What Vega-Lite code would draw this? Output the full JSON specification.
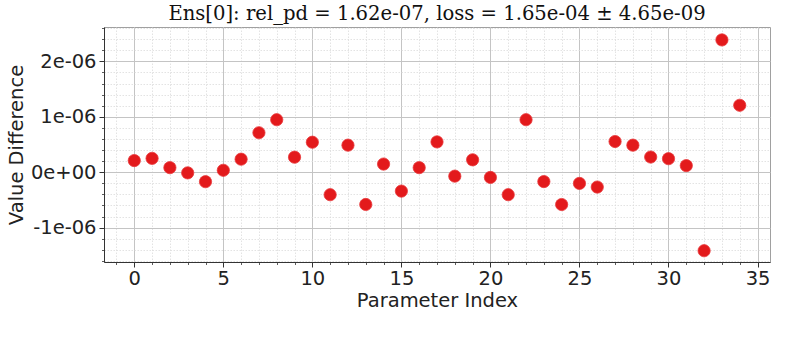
{
  "$schema": "https://vega.github.io/schema/vega-lite/v6.json",
  "width": 666,
  "height": 235,
  "autosize": {"type": "none"},
  "padding": {"left": 104, "top": 27, "right": 20, "bottom": 76},
  "background": "white",
  "title": {
    "text": "Ens[0]: rel_pd = 1.62e-07, loss = 1.65e-04 ± 4.65e-09",
    "font": "DejaVu Serif",
    "fontSize": 19.6,
    "fontWeight": "normal",
    "color": "#111",
    "anchor": "middle",
    "offset": 2
  },
  "config": {
    "view": {"stroke": "#a0a0a0", "strokeWidth": 1},
    "axis": {
      "labelFont": "DejaVu Sans",
      "titleFont": "DejaVu Sans",
      "labelFontSize": 19.5,
      "titleFontSize": 19.5,
      "titleFontWeight": "normal",
      "labelColor": "#222",
      "titleColor": "#222"
    }
  },
  "data": {
    "values": [
      {"i": 0, "v": 2.1e-7}, {"i": 1, "v": 2.5e-7}, {"i": 2, "v": 0.82e-7},
      {"i": 3, "v": -0.12e-7}, {"i": 4, "v": -1.71e-7}, {"i": 5, "v": 0.35e-7},
      {"i": 6, "v": 2.35e-7}, {"i": 7, "v": 7.12e-7}, {"i": 8, "v": 9.47e-7},
      {"i": 9, "v": 2.71e-7}, {"i": 10, "v": 5.41e-7}, {"i": 11, "v": -4.06e-7},
      {"i": 12, "v": 4.88e-7}, {"i": 13, "v": -5.82e-7}, {"i": 14, "v": 1.47e-7},
      {"i": 15, "v": -3.41e-7}, {"i": 16, "v": 0.82e-7}, {"i": 17, "v": 5.47e-7},
      {"i": 18, "v": -0.71e-7}, {"i": 19, "v": 2.24e-7}, {"i": 20, "v": -0.94e-7},
      {"i": 21, "v": -4.06e-7}, {"i": 22, "v": 9.47e-7}, {"i": 23, "v": -1.69e-7},
      {"i": 24, "v": -5.83e-7}, {"i": 25, "v": -2.02e-7}, {"i": 26, "v": -2.68e-7},
      {"i": 27, "v": 5.54e-7}, {"i": 28, "v": 4.88e-7}, {"i": 29, "v": 2.74e-7},
      {"i": 30, "v": 2.44e-7}, {"i": 31, "v": 1.19e-7}, {"i": 32, "v": -14.17e-7},
      {"i": 33, "v": 23.87e-7}, {"i": 34, "v": 12.08e-7}
    ]
  },
  "resolve": {"axis": {"x": "independent", "y": "independent"}},
  "layer": [
    {
      "mark": {"type": "point", "opacity": 0},
      "encoding": {
        "x": {
          "field": "i", "type": "quantitative",
          "scale": {"domain": [-1.7, 35.7], "nice": false, "zero": false},
          "axis": {
            "orient": "bottom",
            "values": [-1, 0, 1, 2, 3, 4, 5, 6, 7, 8, 9, 10, 11, 12, 13, 14, 15, 16, 17, 18, 19, 20, 21, 22, 23, 24, 25, 26, 27, 28, 29, 30, 31, 32, 33, 34, 35],
            "labels": false, "title": null, "domain": false,
            "grid": true, "gridColor": "#dcdcdc", "gridDash": [1.5, 1.5], "gridWidth": 0.8,
            "ticks": true, "tickSize": 2.5, "tickColor": "#333", "tickWidth": 0.8
          }
        },
        "y": {
          "field": "v", "type": "quantitative",
          "scale": {"domain": [-1.62e-6, 2.62e-6], "nice": false, "zero": false},
          "axis": {
            "orient": "left",
            "values": [-1.6e-6, -1.4e-6, -1.2e-6, -1e-6, -0.8e-6, -0.6e-6, -0.4e-6, -0.2e-6, 0, 0.2e-6, 0.4e-6, 0.6e-6, 0.8e-6, 1e-6, 1.2e-6, 1.4e-6, 1.6e-6, 1.8e-6, 2e-6, 2.2e-6, 2.4e-6, 2.6e-6],
            "labels": false, "title": null, "domain": false,
            "grid": true, "gridColor": "#dcdcdc", "gridDash": [1.5, 1.5], "gridWidth": 0.8,
            "ticks": true, "tickSize": 2.5, "tickColor": "#333", "tickWidth": 0.8
          }
        }
      }
    },
    {
      "mark": {"type": "circle", "size": 150, "color": "#e31a1c", "opacity": 1, "stroke": "#e8393b", "strokeWidth": 0.8},
      "encoding": {
        "x": {
          "field": "i", "type": "quantitative",
          "scale": {"domain": [-1.7, 35.7], "nice": false, "zero": false},
          "axis": {
            "orient": "bottom",
            "values": [0, 5, 10, 15, 20, 25, 30, 35],
            "title": "Parameter Index",
            "grid": true, "gridColor": "#c4c4c4", "gridWidth": 1,
            "domain": true, "domainColor": "#333", "domainWidth": 1,
            "tickSize": 5, "tickColor": "#333", "tickWidth": 1,
            "labelPadding": 2, "titlePadding": 4
          }
        },
        "y": {
          "field": "v", "type": "quantitative",
          "scale": {"domain": [-1.62e-6, 2.62e-6], "nice": false, "zero": false},
          "axis": {
            "orient": "left",
            "values": [-1e-6, 0, 1e-6, 2e-6],
            "labelExpr": "datum.value > 1.5e-6 ? '2e-06' : datum.value > 0.5e-6 ? '1e-06' : datum.value > -0.5e-6 ? '0e+00' : '-1e-06'",
            "title": "Value Difference",
            "grid": true, "gridColor": "#c4c4c4", "gridWidth": 1,
            "domain": true, "domainColor": "#333", "domainWidth": 1,
            "tickSize": 5, "tickColor": "#333", "tickWidth": 1,
            "labelPadding": 3, "titlePadding": 4
          }
        }
      }
    }
  ]
}
